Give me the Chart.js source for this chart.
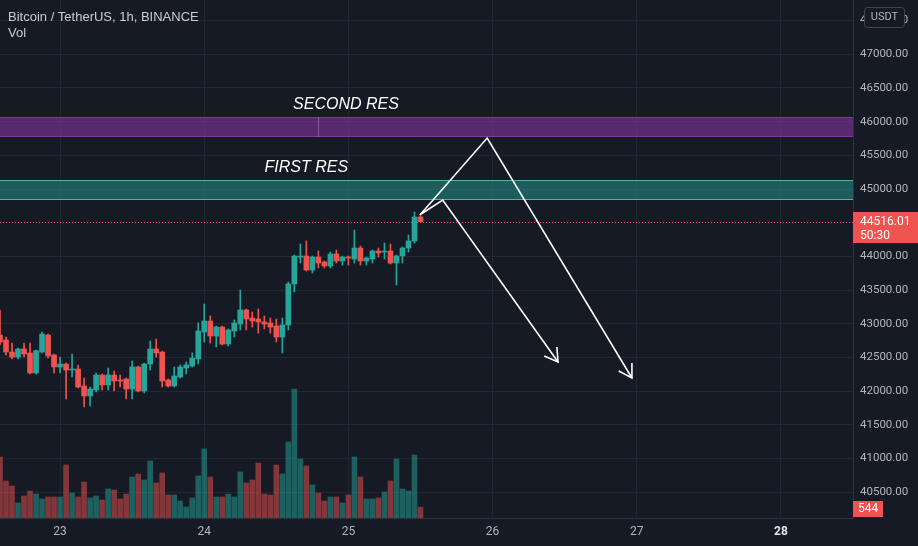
<!DOCTYPE html>
<html><head><meta charset="utf-8">
<script src="https://cdn.jsdelivr.net/npm/chart.js@4.4.0/dist/chart.umd.min.js"></script>
<style>html,body{margin:0;padding:0;background:#161a25;}canvas{display:block}</style>
</head><body>
<canvas id="c" width="918" height="546"></canvas>
<script>
// hours since 23 00:00 (1h candles)
const hours = [-10,-9,-8,-7,-6,-5,-4,-3,-2,-1,0,1,2,3,4,5,6,7,8,9,10,11,12,13,14,15,16,17,18,19,20,21,22,23,24,25,26,27,28,29,30,31,32,33,34,35,36,37,38,39,40,41,42,43,44,45,46,47,48,49,50,51,52,53,54,55,56,57,58,59,60];
const opens = [
42833,42759,42581,42507,42626,42567,42270,42581,42833,42537,
42359,42403,42314,42329,42077,41929,42018,42240,42092,42240,
42166,42181,42032,42359,42003,42403,42626,42581,42166,42077,
42210,42344,42374,42478,42878,43041,42818,42952,42700,42893,
42997,43205,43086,43071,43027,43012,42967,42804,42982,43591,
43991,44006,43798,43991,43917,43858,44036,43932,43991,43961,
44125,43932,43961,44080,44065,44080,43902,44006,44125,44229,
44585];
const closes = [
42730,42581,42507,42626,42552,42270,42601,42848,42522,42359,
42403,42314,42329,42062,41929,42032,42240,42092,42240,42151,
42151,42032,42359,42003,42403,42626,42567,42151,42077,42225,
42359,42389,42492,42893,43041,42818,42952,42700,42908,43012,
43205,43071,43041,43027,42997,42952,42804,42982,43591,44006,
44006,43798,43991,43902,43858,44036,43932,43991,43976,44125,
43932,43976,44080,44051,44080,43902,44006,44125,44229,44585,
44516.01];
const highs = [
43205,42804,42715,42641,42715,42715,42611,42878,42848,42552,
42507,42418,42552,42389,42196,42062,42270,42255,42344,42299,
42240,42196,42448,42374,42418,42745,42774,42596,42181,42359,
42389,42433,42567,43012,43294,43116,42967,42967,42923,43057,
43501,43220,43175,43220,43116,43086,43071,43086,43620,44021,
44184,44229,44006,44080,43932,44065,44095,44006,44006,44392,
44154,43991,44095,44125,44199,44184,44021,44140,44318,44659,
44629];
const lows = [
42685,42537,42478,42478,42507,42255,42255,42567,42492,42270,
42270,41884,42210,42047,41765,41780,41988,42018,42018,42003,
42062,41884,41884,41988,41973,42314,42507,42062,42062,42062,
42196,42255,42359,42403,42730,42715,42656,42685,42670,42804,
42908,42908,42952,42863,42923,42863,42730,42567,42908,43472,
43902,43783,43754,43828,43828,43828,43902,43872,43872,43902,
43872,43872,43902,43991,43961,43887,43576,43902,44065,44199,
44511];
const volumes = [
3050,1850,1600,750,1100,1350,1200,950,1050,1050,
1050,2650,1250,1050,1800,1000,1100,900,1450,1400,
950,1200,2050,2200,1900,2850,1750,2250,1150,1150,
850,550,1000,2100,3450,2050,1050,1050,1200,1050,
2300,1750,1900,2750,1200,1150,2650,2200,3800,6450,
2950,2600,1650,1250,850,1050,1050,750,1150,3050,
2050,950,950,1000,1300,1850,2950,1450,1350,3150,
544];
const dayTicks = [0,24,48,72,96,120];
const dayLabels = ['23','24','25','26','27','28'];
const priceTicks = [40500,41000,41500,42000,42500,43000,43500,44000,44500,45000,45500,46000,46500,47000,47500];
// resistance zones
const zoneNames = ['SECOND RES','FIRST RES'];
const zoneTop = [46068,45134];
const zoneBottom = [45772,44837];
const zoneLabelHour = [47.6,41];
const zoneLabelPrice = [46247,45312];
// drawn arrows (hour, price)
const arrow1Hours = [59.9,71.1,95.2];
const arrow1Prices = [44614,45757,42196];
const arrow1HeadHours = [93.0,95.2,95.2];
const arrow1HeadPrices = [42299,42196,42418];
const arrow2Hours = [60.1,63.7,82.9];
const arrow2Prices = [44629,44837,42433];
const arrow2HeadHours = [80.6,82.9,82.7];
const arrow2HeadPrices = [42522,42433,42656];
const countdown = '50:30';

const UP = '#26a69a', DN = '#ef5350';
const UPV = 'rgba(38,166,154,0.5)', DNV = 'rgba(239,83,80,0.5)';
const isUp = hours.map((h,i)=>closes[i]>=opens[i]);
const pts = (xs,ys)=>xs.map((x,i)=>({x:x,y:ys[i]}));
const lastClose = closes[closes.length-1];
const lastVol = volumes[volumes.length-1];

const overlay = {
  id:'overlay',
  beforeDatasetsDraw(chart){
    const {ctx, chartArea:a, scales} = chart;
    const y = scales.y;
    ctx.save();
    const fills = ['rgba(142,54,170,0.55)','rgba(38,150,140,0.55)'];
    const borders = ['#7e3a9c','#4fb596'];
    zoneTop.forEach((t,i)=>{
      const y1 = y.getPixelForValue(t), y2 = y.getPixelForValue(zoneBottom[i]);
      ctx.fillStyle = fills[i];
      ctx.fillRect(a.left, y1, a.right-a.left, y2-y1);
      ctx.strokeStyle = borders[i]; ctx.lineWidth = 1;
      ctx.beginPath();
      ctx.moveTo(a.left, Math.round(y1)+0.5); ctx.lineTo(a.right, Math.round(y1)+0.5);
      ctx.moveTo(a.left, Math.round(y2)-0.5); ctx.lineTo(a.right, Math.round(y2)-0.5);
      ctx.stroke();
    });
    // seam inside purple zone
    const sx = Math.round(scales.x.getPixelForValue(43))+0.5;
    ctx.strokeStyle = 'rgba(170,110,200,0.6)';
    ctx.beginPath();
    ctx.moveTo(sx, y.getPixelForValue(zoneTop[0])); ctx.lineTo(sx, y.getPixelForValue(zoneBottom[0]));
    ctx.stroke();
    // zone labels
    ctx.fillStyle = '#ffffff';
    ctx.font = 'italic 16px "Liberation Sans", Arial, sans-serif';
    ctx.textAlign = 'center'; ctx.textBaseline = 'middle';
    zoneNames.forEach((n,i)=>{
      ctx.fillText(n, scales.x.getPixelForValue(zoneLabelHour[i]), y.getPixelForValue(zoneLabelPrice[i]));
    });
    // current price dotted line
    const py = Math.round(y.getPixelForValue(lastClose))+0.5;
    ctx.strokeStyle = DN; ctx.setLineDash([1,2]);
    ctx.beginPath(); ctx.moveTo(a.left, py); ctx.lineTo(a.right, py); ctx.stroke();
    ctx.setLineDash([]);
    ctx.restore();
  },
  afterDraw(chart){
    const {ctx, chartArea:a, scales} = chart;
    const y = scales.y, yv = scales.yv;
    ctx.save();
    // title
    ctx.fillStyle = '#c9ccd4';
    ctx.font = '13px "Liberation Sans", Arial, sans-serif';
    ctx.textAlign = 'left'; ctx.textBaseline = 'middle';
    ctx.fillText('Bitcoin / TetherUS, 1h, BINANCE', 8, 17);
    ctx.fillText('Vol', 8, 33);
    // price label
    const py = Math.round(y.getPixelForValue(lastClose));
    ctx.fillStyle = DN;
    ctx.fillRect(a.right, py-10, 65, 31);
    ctx.fillStyle = '#ffffff';
    ctx.font = '12px Roboto, sans-serif';
    ctx.fillText(lastClose.toFixed(2), a.right+7, py);
    ctx.fillText(countdown, a.right+7, py+14);
    // volume label
    const vy = Math.round(yv.getPixelForValue(lastVol));
    ctx.fillStyle = DN;
    ctx.fillRect(a.right, vy-6, 30, 16);
    ctx.fillStyle = '#ffffff';
    ctx.fillText(String(lastVol), a.right+5, vy+2);
    // USDT box
    ctx.fillStyle = '#161a25';
    ctx.strokeStyle = '#434651'; ctx.lineWidth = 1;
    ctx.beginPath();
    if (ctx.roundRect) ctx.roundRect(864.5, 7.5, 40, 20, 3); else ctx.rect(864.5,7.5,40,20);
    ctx.fill(); ctx.stroke();
    ctx.fillStyle = '#b2b5be';
    ctx.font = '11px Roboto, sans-serif';
    ctx.textAlign = 'center';
    ctx.fillText('USDT', 884.5, 17.5);
    ctx.restore();
  }
};

new Chart(document.getElementById('c'), {
  data: {
    datasets: [
      { type:'line', data: pts(arrow1Hours, arrow1Prices), borderColor:'#ffffff', borderWidth:1.6, pointRadius:0, order:0, yAxisID:'y' },
      { type:'line', data: pts(arrow1HeadHours, arrow1HeadPrices), borderColor:'#ffffff', borderWidth:1.6, pointRadius:0, order:0, yAxisID:'y' },
      { type:'line', data: pts(arrow2Hours, arrow2Prices), borderColor:'#ffffff', borderWidth:1.6, pointRadius:0, order:0, yAxisID:'y' },
      { type:'line', data: pts(arrow2HeadHours, arrow2HeadPrices), borderColor:'#ffffff', borderWidth:1.6, pointRadius:0, order:0, yAxisID:'y' },
      { type:'bar', data: hours.map((h,i)=>({x:h, y:[opens[i], closes[i]]})), backgroundColor: isUp.map(u=>u?UP:DN), barThickness:5, minBarLength:1, grouped:false, order:1, yAxisID:'y' },
      { type:'bar', data: hours.map((h,i)=>({x:h, y:[lows[i], highs[i]]})), backgroundColor: isUp.map(u=>u?UP:DN), barThickness:1, grouped:false, order:2, yAxisID:'y' },
      { type:'bar', data: hours.map((h,i)=>({x:h, y:volumes[i]})), backgroundColor: isUp.map(u=>u?UPV:DNV), barThickness:5, grouped:false, order:3, yAxisID:'yv' }
    ]
  },
  options: {
    responsive:false, animation:false, events:[],
    devicePixelRatio:1,
    layout:{ padding:0, autoPadding:false },
    plugins:{ legend:{display:false}, tooltip:{enabled:false} },
    scales:{
      x:{
        type:'linear', position:'bottom', min:-10, max:132, offset:false,
        afterBuildTicks: ax => { ax.ticks = dayTicks.map(v=>({value:v})); },
        afterFit: ax => { ax.height = 28; ax.paddingLeft = 0; ax.paddingRight = 0; },
        grid:{ color:'#222632', drawTicks:false, offset:false },
        border:{ color:'#2e323e' },
        ticks:{ padding:7, maxRotation:0, autoSkip:false,
          color: c => c.tick && c.tick.value===120 ? '#e0e3eb' : '#b2b5be',
          font: c => ({ family:'Roboto, sans-serif', size:12, weight: c.tick && c.tick.value===120 ? 'bold' : 'normal' }),
          callback: v => dayLabels[dayTicks.indexOf(v)] }
      },
      y:{
        type:'linear', position:'right', min:40118, max:47805,
        afterBuildTicks: ax => { ax.ticks = priceTicks.map(v=>({value:v})); },
        afterFit: ax => { ax.width = 65; ax.paddingTop = 0; ax.paddingBottom = 0; },
        grid:{ color:'#222632', drawTicks:false },
        border:{ color:'#2e323e' },
        ticks:{ padding:7, color:'#b2b5be', font:{ family:'Roboto, sans-serif', size:11.5 },
          callback: v => Number(v).toFixed(2) }
      },
      yv:{ type:'linear', display:false, min:0, max:25900 }
    }
  },
  plugins:[overlay]
});
</script>
</body></html>
